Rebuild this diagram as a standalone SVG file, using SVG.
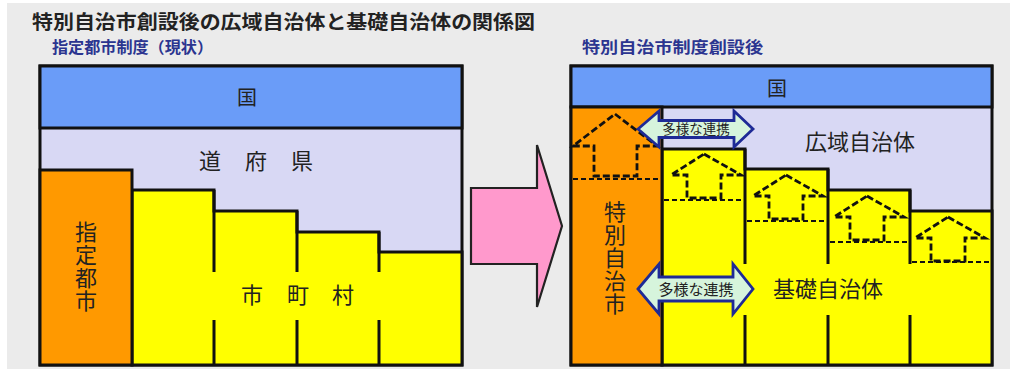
<svg xmlns="http://www.w3.org/2000/svg" width="1010" height="369" viewBox="0 0 1010 369">
<defs>
<style>
.t{font-family:"Noto Sans CJK JP","Noto Sans",sans-serif;fill:#222;}
.bk{stroke:#111;stroke-width:3;}
.blue{fill:#6a9cf8;}
.lav{fill:#d8d8f4;}
.org{fill:#ff9900;}
.yel{fill:#ffff00;}
.dash{fill:none;stroke:#111;stroke-width:2.2;stroke-dasharray:5 3;}
.house{fill:none;stroke:#111;stroke-width:2.8;stroke-dasharray:7 3;stroke-linejoin:miter;}
.dbl{fill:#d6f4dc;stroke:#1e2a96;stroke-width:2.8;stroke-linejoin:miter;}
.sub{font-family:"Noto Sans CJK JP","Noto Sans",sans-serif;fill:#2b3590;font-weight:bold;font-size:15.5px;}
</style>
</defs>
<rect x="0" y="0" width="1010" height="369" fill="#ffffff"/>
<rect x="7" y="3" width="1003" height="366" fill="#ebebeb"/>
<g id="titles">
<text class="t" x="32" y="28.5" font-size="19" font-weight="bold" fill="#000" textLength="503" lengthAdjust="spacingAndGlyphs">特別自治市創設後の広域自治体と基礎自治体の関係図</text>
<text class="sub" x="52" y="52.5" textLength="161" lengthAdjust="spacingAndGlyphs">指定都市制度（現状）</text>
<text class="sub" x="582" y="52.5" textLength="181" lengthAdjust="spacingAndGlyphs">特別自治市制度創設後</text>
</g>
<g id="left-panel">
<g id="left-pref">
<rect class="lav bk" x="40" y="66" width="422" height="299"/>
<text class="t" font-size="22" text-anchor="middle" x="210 256 302" y="169">道府県</text>
</g>
<g id="left-country">
<rect class="blue bk" x="40" y="66" width="422" height="62"/>
<text class="t" font-size="20" text-anchor="middle" x="247" y="105">国</text>
</g>
<g id="left-municipalities">
<path class="yel bk" d="M132,365 L132,190 L214,190 L214,211 L297,211 L297,232 L379,232 L379,252 L462,252 L462,365 Z"/>
<path class="bk" fill="none" d="M214,190 V272 M214,320 V365 M297,211 V272 M297,320 V365 M379,232 V272 M379,320 V365"/>
<text class="t" font-size="22" text-anchor="middle" x="252 298 343" y="303">市町村</text>
</g>
<g id="left-designated">
<rect class="org bk" x="40" y="170" width="92" height="195"/>
<text class="t" font-size="22" text-anchor="middle" x="86 86 86 86" y="240 263 286 309">指定都市</text>
</g>
</g>
<g id="right-panel">
<g id="right-wide">
<rect class="lav bk" x="571" y="66" width="421" height="299"/>
<text class="t" font-size="22" text-anchor="middle" x="860" y="150">広域自治体</text>
</g>
<g id="right-country">
<rect class="blue bk" x="571" y="66" width="421" height="41"/>
<text class="t" font-size="20" text-anchor="middle" x="777" y="96">国</text>
</g>
<g id="right-basic">
<path class="yel bk" d="M662,365 L662,149 L745,149 L745,169 L828,169 L828,190 L910,190 L910,211 L992,211 L992,365 Z"/>
<path class="bk" fill="none" d="M745,149 V264 M745,315 V365 M828,169 V264 M828,315 V365 M910,190 V264 M910,315 V365"/>
<path class="dash" d="M664,200 H743 M747,221 H826 M830,242 H908 M912,262 H990"/>
<path class="house" d="M704,154 L741,175 L721,175 L721,198 L687,198 L687,175 L671,175 Z"/>
<path class="house" d="M786,175 L823,196 L803,196 L803,219 L769,219 L769,196 L753,196 Z"/>
<path class="house" d="M867,196 L904,217 L884,217 L884,240 L850,240 L850,217 L834,217 Z"/>
<path class="house" d="M948,217 L985,238 L965,238 L965,261 L931,261 L931,238 L915,238 Z"/>
<text class="t" font-size="22" text-anchor="middle" x="828" y="297">基礎自治体</text>
</g>
<g id="right-special">
<rect class="org bk" x="571" y="107" width="91" height="258"/>
<path class="dash" d="M573,179 H660"/>
<path class="house" d="M615,114 L657,146 L637,146 L637,176 L594,176 L594,146 L573,146 Z"/>
<text class="t" font-size="22" text-anchor="middle" x="615 615 615 615 615" y="220 243 266 289 312">特別自治市</text>
</g>
</g>
<g id="connectors">
<path fill="#ff99cc" stroke="#222" stroke-width="2.2" d="M471,188 L537,188 L537,145 L562,226 L537,307 L537,264 L471,264 Z"/>
<g id="link-top">
<path class="dbl" d="M638,129 L659,111 L659,120.5 L734,120.5 L734,111 L753,129 L734,147 L734,137.5 L659,137.5 L659,147 Z"/>
<text class="t" font-size="13.5" fill="#333" text-anchor="middle" x="696" y="134">多様な連携</text>
</g>
<g id="link-bottom">
<path class="dbl" d="M638,289 L659,264 L659,277 L733,277 L733,264 L753,289 L733,314 L733,301 L659,301 L659,314 Z"/>
<text class="t" font-size="15" fill="#333" text-anchor="middle" x="696" y="294.5">多様な連携</text>
</g>
</g>
</svg>
